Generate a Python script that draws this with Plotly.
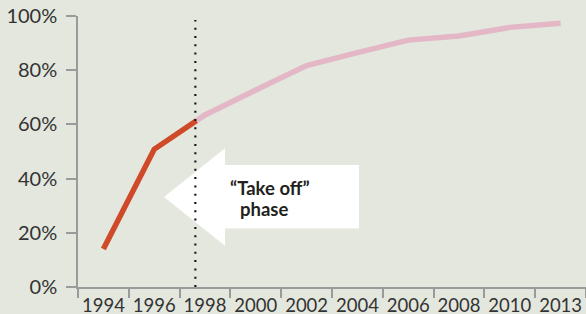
import numpy as np
import plotly.graph_objects as go

# ---- data ----
years = ["1994", "1996", "1998", "2000", "2002", "2004", "2006", "2008", "2010", "2013"]
share = [14.0, 50.8, 63.5, 72.7, 81.7, 86.5, 91.1, 92.6, 95.8, 97.3]
y_ticks = [0, 20, 40, 60, 80, 100]
y_tick_text = ["0%", "20%", "40%", "60%", "80%", "100%"]
takeoff_pos = 1.83          # position of the "take off" boundary (category index)
takeoff_label = ["\u201cTake off\u201d", "phase"]

# ---- style ----
BG = "#e4e7de"
RED = "#cf4a28"
PINK = "#e4b7c7"
AXIS = "#9a9a9a"
TXT = "#333333"
FONT = "Lato"

W, H = 586, 314
ML, MR, MT, MB = 78, 0, 16, 27
PW, PH = W - ML - MR, H - MT - MB

x_idx = np.arange(len(years), dtype=float)
split_val = float(np.interp(takeoff_pos, x_idx, share))

red_x = [v for v in x_idx if v < takeoff_pos] + [takeoff_pos]
red_y = [share[i] for i, v in enumerate(x_idx) if v < takeoff_pos] + [split_val]
pink_x = [takeoff_pos] + [v for v in x_idx if v > takeoff_pos]
pink_y = [split_val] + [share[i] for i, v in enumerate(x_idx) if v > takeoff_pos]

fig = go.Figure()
fig.add_trace(go.Scatter(x=pink_x, y=pink_y, mode="lines",
                         line=dict(color=PINK, width=5.5), hoverinfo="skip"))
fig.add_trace(go.Scatter(x=red_x, y=red_y, mode="lines",
                         line=dict(color=RED, width=5.5), hoverinfo="skip"))


def px2paper(px, py):
    return (px - ML) / PW, (H - MB - py) / PH


arrow_px = [(164, 197), (225, 148.3), (225, 165), (359, 165), (359, 228.5),
            (225, 228.5), (225, 245.7)]
pts = [px2paper(a, b) for a, b in arrow_px]
path = "M " + " L ".join(f"{a:.4f},{b:.4f}" for a, b in pts) + " Z"
fig.add_shape(type="path", path=path, xref="paper", yref="paper",
              fillcolor="white", line=dict(width=0), layer="below")

# dotted boundary line
_, ytop = px2paper(0, 20)
fig.add_shape(type="line", x0=takeoff_pos - 0.02, x1=takeoff_pos - 0.02, xref="x",
              y0=0, y1=ytop, yref="paper",
              line=dict(color="#1a1a1a", width=2.2, dash="2px,6.3px"), layer="above")

# annotation text
for txt, (px, py) in zip(takeoff_label, [(229, 188), (239, 208.5)]):
    ax, ay = px2paper(px, py)
    fig.add_annotation(x=ax, y=ay, xref="paper", yref="paper", text=f"<b>{txt}</b>",
                       showarrow=False, xanchor="left", yanchor="middle", borderpad=0,
                       font=dict(family=FONT, size=18.5, color="#231f20"))

fig.update_layout(
    width=W, height=H, margin=dict(l=ML, r=MR, t=MT, b=MB, autoexpand=False),
    paper_bgcolor=BG, plot_bgcolor=BG, showlegend=False,
    font=dict(family=FONT, color=TXT),
)
fig.update_xaxes(
    range=[-0.5, len(years) - 0.5], tickmode="array", tickvals=x_idx, ticktext=years,
    ticks="", showgrid=False, zeroline=False, showline=True, linecolor=AXIS, linewidth=1.5,
    tickfont=dict(family=FONT, size=18.5, color=TXT), ticklabelstandoff=1, automargin=False,
    minor=dict(tickmode="array", tickvals=list(np.arange(-0.5, len(years), 1.0)),
               ticks="outside", ticklen=9, tickcolor=AXIS, tickwidth=1.5, showgrid=False),
)
fig.update_yaxes(
    range=[0, 100], tickmode="array", tickvals=y_ticks, ticktext=y_tick_text,
    ticks="outside", ticklen=10, tickcolor=AXIS, tickwidth=1.5, automargin=False,
    showgrid=False, zeroline=False, showline=True, linecolor=AXIS, linewidth=1.5,
    tickfont=dict(family=FONT, size=20, color=TXT), ticklabelstandoff=5,
)

fig.write_html("out.html", config={"displayModeBar": False},
               post_script="document.body.style.margin='0px';"
                           "document.body.style.overflow='hidden';")
